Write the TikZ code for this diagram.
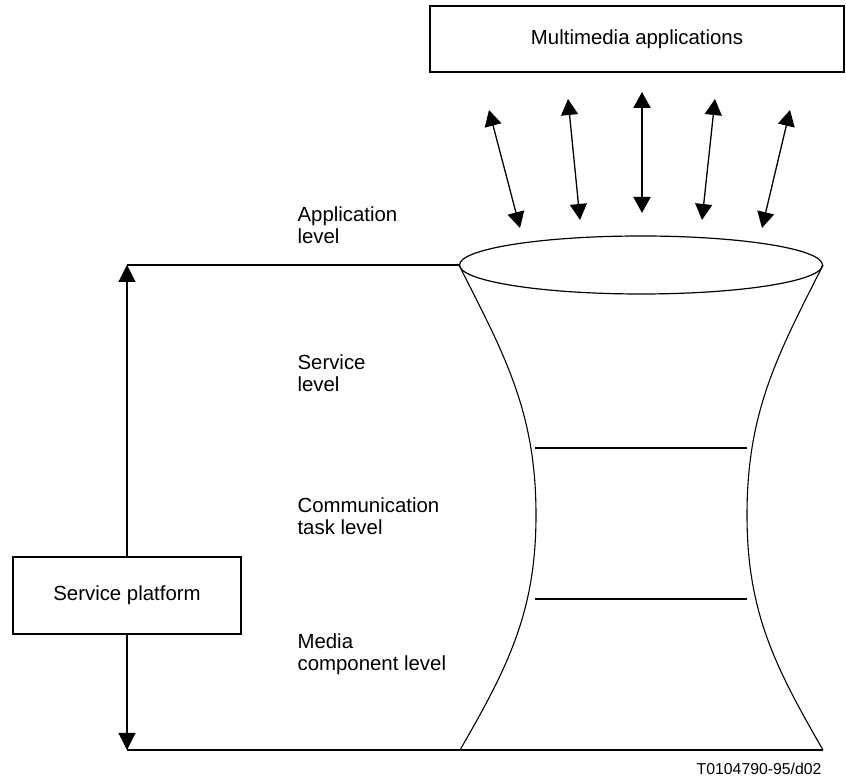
\documentclass[tikz,border=0pt]{standalone}
\usepackage{fontspec}
\setmainfont{Liberation Sans}
\usepackage{tikz}
\usetikzlibrary{shapes.geometric, arrows.meta, positioning, calc}

\tikzset{
  plainbox/.style={draw, line width=1.1pt, inner sep=0pt, font=\fontsize{20.4}{21.5}\selectfont},
  lvl/.style={anchor=west, align=left, inner sep=0pt, font=\fontsize{20.4}{21.5}\selectfont},
  dbl/.style={line width=1.3pt, {Triangle[length=16pt, width=17pt]}-{Triangle[length=16pt, width=17pt]}},
}

\begin{document}
\begin{tikzpicture}[x=1pt, y=1pt, line width=1.1pt]
  \useasboundingbox (0,0) rectangle (846,781);

  % boxes
  \node[plainbox, minimum width=414pt, minimum height=66pt] (apps) at (637,742) {Multimedia applications};
  \node[plainbox, minimum width=228pt, minimum height=77pt] (platform) at (127,185.5) {Service platform};

  % top of the funnel
  \node[draw, ellipse, line width=1.2pt, inner sep=0pt, minimum width=363pt, minimum height=58pt] (rim) at (641,516) {};

  % arrows between applications and rim
  \foreach \i/\xa/\ya/\xb/\yb in {1/489/671/520/553, 2/568/682/580/561, 4/715/682/702/561, 5/790/671/762/553} {
    \coordinate (up\i) at (\xa,\ya);
    \coordinate (dn\i) at (\xb,\yb);
    \draw[dbl] (up\i) -- (dn\i);
  }
  \coordinate (up3) at (642,689);
  \coordinate (dn3) at (642,568);
  \draw[dbl, line width=2pt] (up3) -- (dn3);

  % funnel sides
  \coordinate (baseL) at (460,31);
  \coordinate (baseR) at (823,31);
  \draw (rim.west) to[out=-63, in=90] (536,266) to[out=-90, in=60] (baseL);
  \draw (rim.east) to[out=-117, in=90] (747,266) to[out=-90, in=120] (baseR);

  % level separators
  \draw[line width=2pt] (535,333) -- (747,333);
  \draw[line width=2pt] (535,182) -- (747,182);

  % platform span
  \coordinate (spanT) at (127,516);
  \coordinate (spanB) at (127,31);
  \draw (spanT) -- (rim.west);
  \draw (spanB) -- (baseR);
  \draw[-{Triangle[length=17pt, width=17pt]}] (platform.north) -- (spanT);
  \draw[-{Triangle[length=17pt, width=17pt]}] (platform.south) -- (spanB);

  % level labels
  \node[lvl] (appl) at (297,556) {Application\\level};
  \node[lvl] (serv) at (297,408) {Service\\level};
  \node[lvl] (comm) at (297,265) {Communication\\task level};
  \node[lvl] (media) at (297,127) {Media\\component level};

  \node[anchor=base east, inner sep=0pt, font=\fontsize{15.8}{18}\selectfont] (code) at (822,6) {T0104790-95/d02};
\end{tikzpicture}
\end{document}
